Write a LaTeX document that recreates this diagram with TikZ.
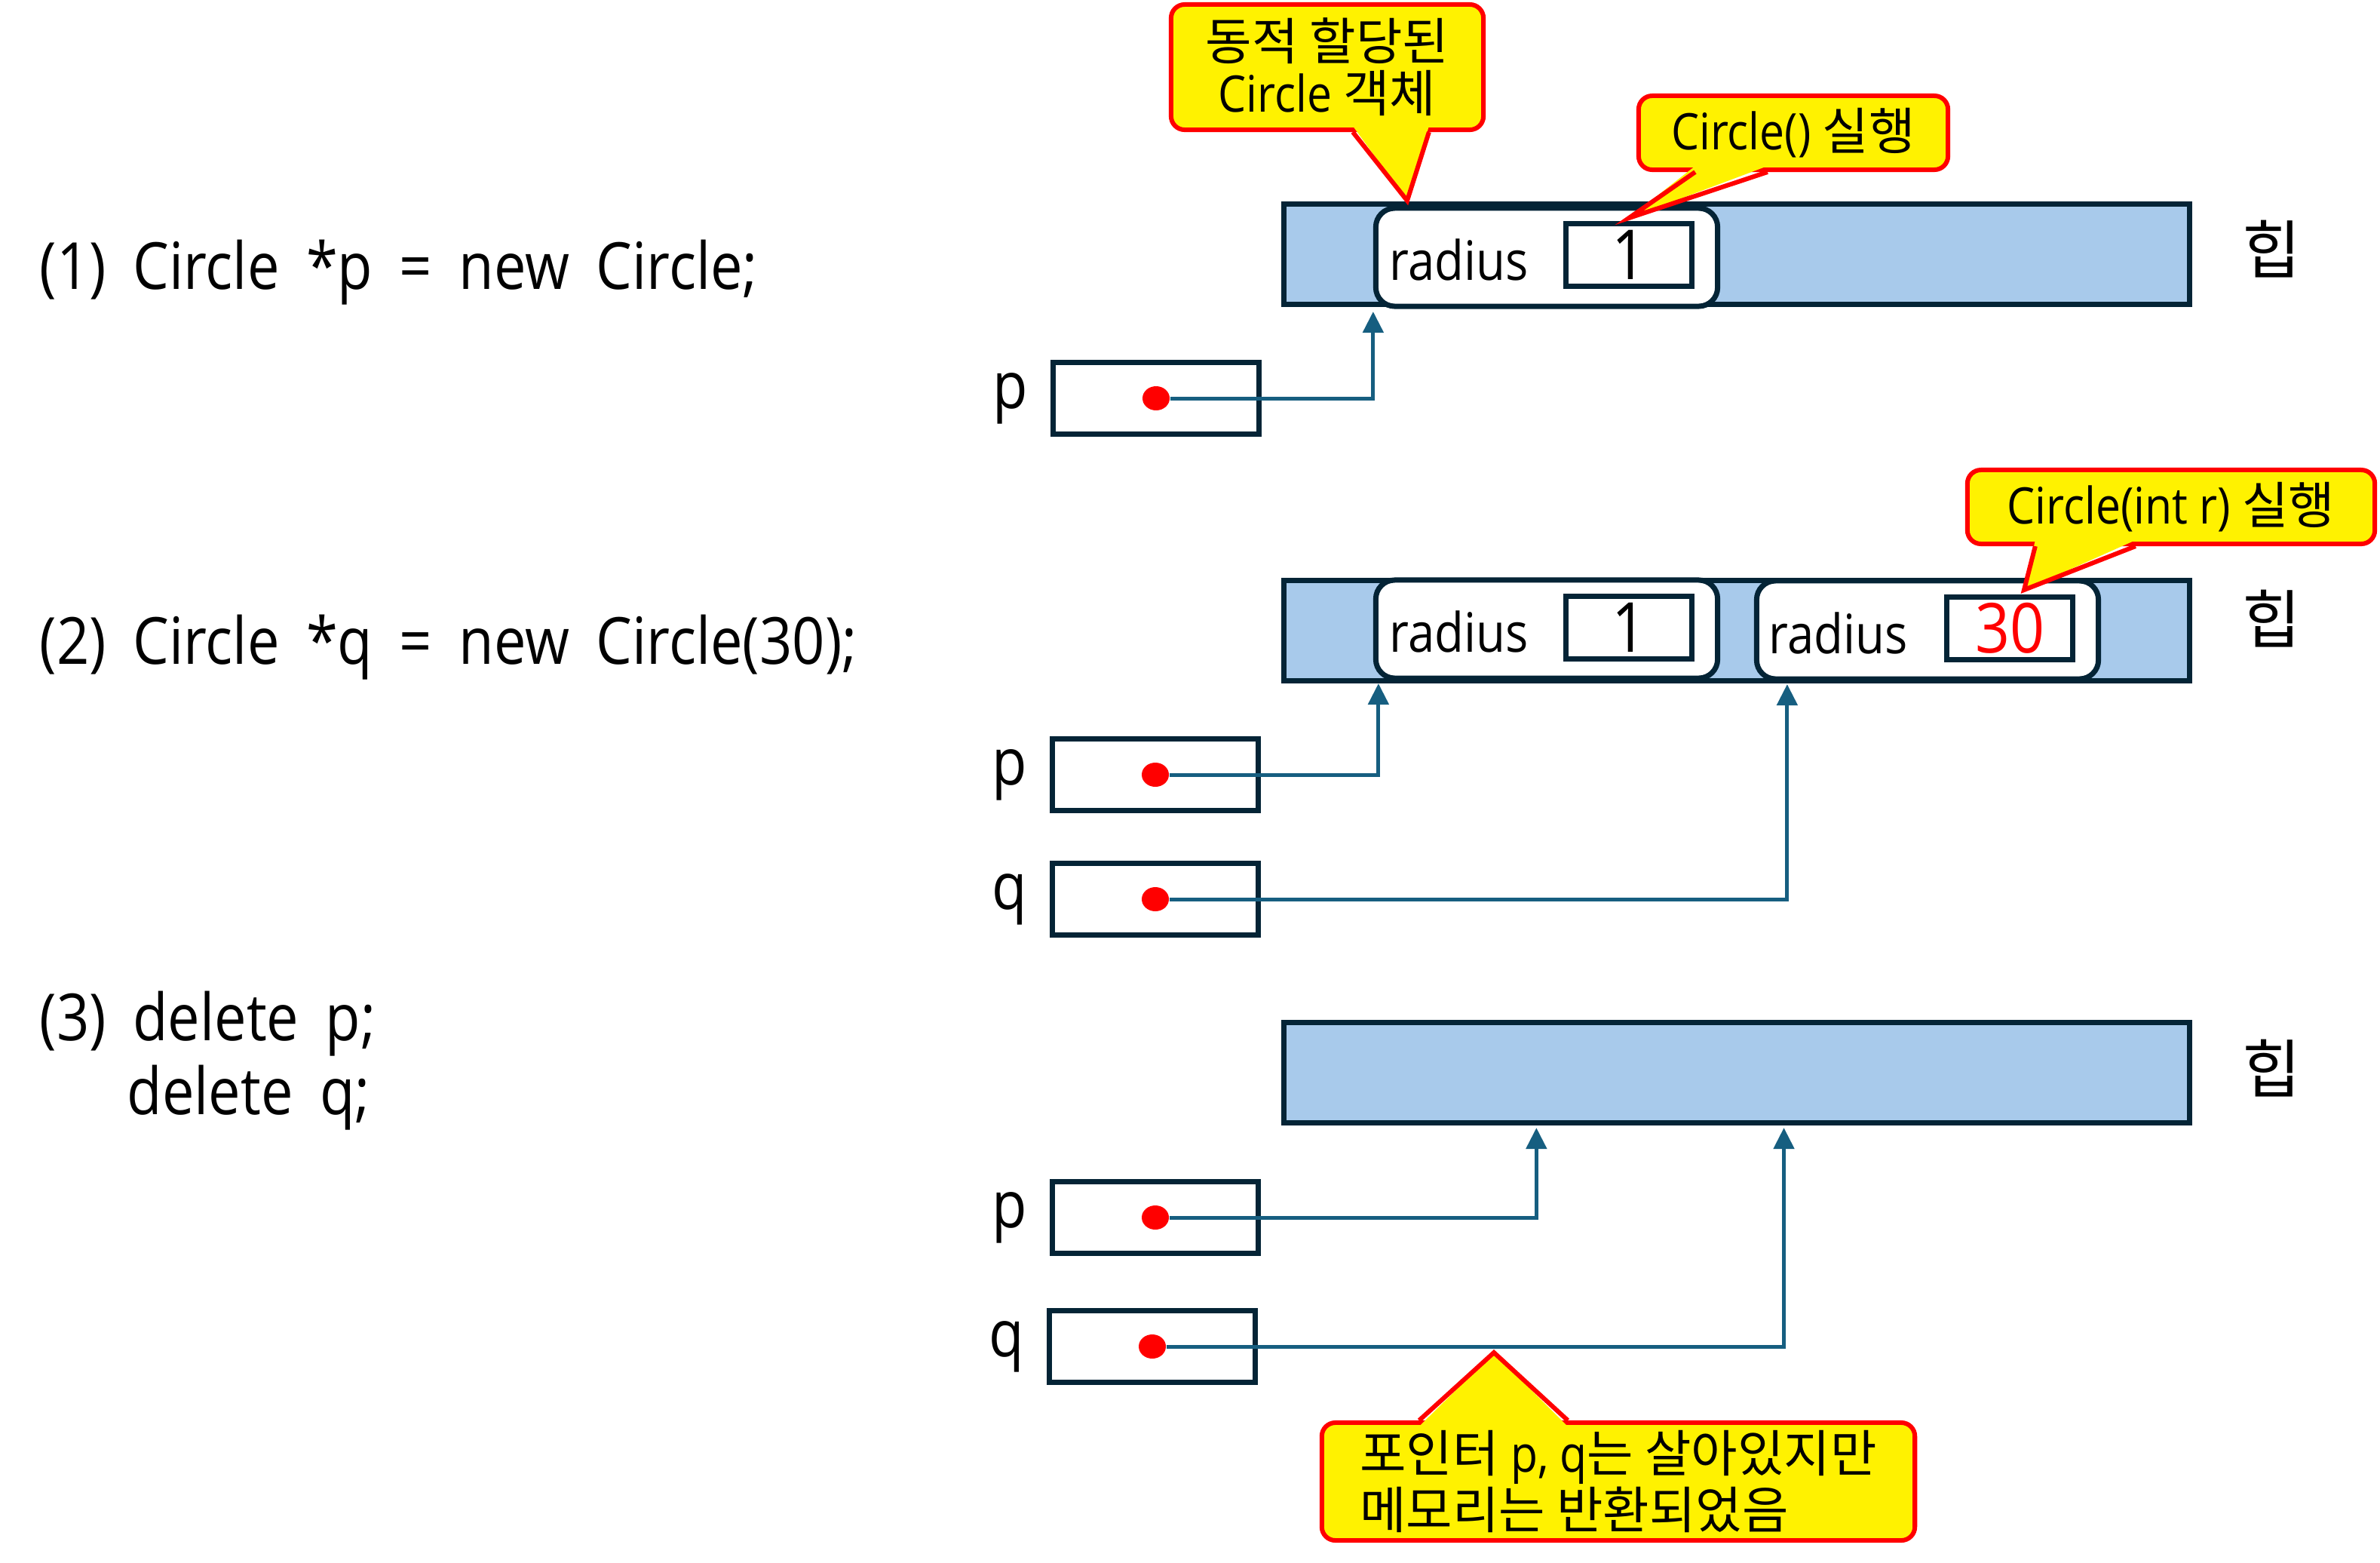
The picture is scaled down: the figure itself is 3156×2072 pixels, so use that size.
\documentclass[tikz,border=0pt]{standalone}
\usepackage{fontspec}
\setmainfont[FakeStretch=0.88]{Open Sans}
\newfontfamily\codefont[FakeStretch=0.88, WordSpace=1.8]{Open Sans}
\newfontfamily\kr{Noto Sans CJK KR}
\usepackage{tikz}
\usetikzlibrary{arrows.meta, positioning, shapes.geometric}

\definecolor{heapblue}{RGB}{168,202,235}
\definecolor{boxline}{RGB}{4,36,54}
\definecolor{ptrline}{RGB}{22,94,128}

\tikzstyle{heap} = [draw=boxline, fill=heapblue, line width=0.07cm, minimum width=12cm, minimum height=1.32cm, inner sep=0]
\tikzstyle{obj} = [draw=boxline, fill=white, line width=0.07cm, rounded corners=0.25cm, minimum width=4.53cm, minimum height=1.3cm, inner sep=0]
\tikzstyle{valbox} = [draw=boxline, fill=white, line width=0.07cm, minimum width=1.67cm, minimum height=0.83cm, inner sep=0, font=\fontsize{26}{30}\selectfont]
\tikzstyle{ptrbox} = [draw=boxline, line width=0.07cm, minimum width=2.72cm, minimum height=0.95cm, inner sep=0]
\tikzstyle{ptrdot} = [ellipse, fill=red, minimum width=0.36cm, minimum height=0.32cm, inner sep=0]
\tikzstyle{ptr} = [line width=0.05cm, ptrline, -{Triangle[length=0.28cm, width=0.27cm]}]
\tikzstyle{note} = [draw=red, fill=yellow, line width=0.06cm, rounded corners=0.18cm, inner sep=0, font=\fontsize{19}{19.6}\selectfont]
\tikzstyle{noteline} = [draw=red, line width=0.06cm]
\tikzstyle{codeline} = [anchor=base west, inner sep=0, font=\codefont\fontsize{24.5}{29}\selectfont]
\tikzstyle{lbl} = [inner sep=0, font=\fontsize{24.5}{29}\selectfont]
\tikzstyle{fieldname} = [anchor=base west, inner sep=0, font=\fontsize{20.5}{24}\selectfont]

\begin{document}
\begin{tikzpicture}[x=0.01cm, y=-0.01cm, line join=miter]
    \useasboundingbox (0,0) rectangle (3156,2072);

    % code on the left
    \node[codeline] (code1) at (52,383)  {(1) Circle *p = new Circle;};
    \node[codeline] (code2) at (52,880)  {(2) Circle *q = new Circle(30);};
    \node[codeline] (code3) at (52,1379) {(3) delete p;};
    \node[codeline] (code4) at (168,1477) {delete q;};

    % heap strips and their labels
    \foreach \n/\yy/\ly in {1/337/330, 2/836/820, 3/1422/1416}{
      \node[heap] (heap\n) at (2303,\yy) {};
      \node[font=\kr\fontsize{24}{29}\selectfont] (heaplbl\n) at (3012,\ly) {힙};
    }

    % objects on the heap
    \node[obj] (obj1) at (2051,341) {};
    \node[valbox] (val1) at (2160,338) {1};
    \node[fieldname] (rad1) at (1842,371) {radius};

    \node[obj] (obj2a) at (2051,834) {};
    \node[valbox] (val2a) at (2160,832) {1};
    \node[fieldname] (rad2a) at (1842,864) {radius};

    \node[obj] (obj2b) at (2556,835) {};
    \node[valbox, text=red] (val2b) at (2665,833) {30};
    \node[fieldname] (rad2b) at (2345,866) {radius};

    % pointer variables
    \foreach \v/\xx/\yy in {pbox1/1533/528, pbox2/1532/1027, qbox2/1532/1192,
                            pbox3/1532/1614, qbox3/1528/1785}{
      \node[ptrbox] (\v) at (\xx,\yy) {};
    }
    \node[lbl, left=0.3cm of pbox1] (plbl1) {p};
    \node[lbl, left=0.3cm of pbox2] (plbl2) {p};
    \node[lbl, left=0.3cm of qbox2] (qlbl2) {q};
    \node[lbl, left=0.3cm of pbox3] (plbl3) {p};
    \node[lbl, left=0.3cm of qbox3] (qlbl3) {q};

    \node[ptrdot] (pdot1) at (pbox1) {};
    \node[ptrdot] (pdot2) at (pbox2) {};
    \node[ptrdot] (qdot2) at (qbox2) {};
    \node[ptrdot] (pdot3) at (pbox3) {};
    \node[ptrdot] (qdot3) at (qbox3) {};

    % pointers into the heap
    \draw[ptr] (pdot1.east) -| ([yshift=-0.035cm]obj1.south west);
    \draw[ptr] (pdot2.east) -| ([xshift=0.07cm, yshift=-0.035cm]obj2a.south west);
    \draw[ptr] (qdot2.east) -| ([xshift=0.44cm, yshift=-0.035cm]obj2b.south west);
    \draw[ptr] (pdot3.east) -| ([xshift=3.38cm, yshift=-0.035cm]heap3.south west);
    \draw[ptr] (qdot3.east) -| ([xshift=6.66cm, yshift=-0.035cm]heap3.south west);

    % callouts
    \node[note, minimum width=4.14cm, minimum height=1.66cm, align=center] (note1) at (1760,89)
      {{\kr 동적 할당된}\\Circle {\kr 객체}};
    \node[note, minimum width=4.10cm, minimum height=0.98cm] (note2) at (2378,176) {Circle() {\kr 실행}};
    \node[note, minimum width=5.40cm, minimum height=0.98cm] (note3) at (2879,672) {Circle(int r) {\kr 실행}};
    \node[note, minimum width=7.86cm, minimum height=1.56cm, align=left] (note4) at (2146,1964)
      {{\kr 포인터} p, q{\kr 는 살아있지만}\\{\kr 메모리는 반환되었음}};

    \coordinate (tip1) at (1866,266);
    \coordinate (tip2) at (2160,289);
    \coordinate (tip3) at (2684,782);
    \coordinate (tip4) at (1981,1793);

    \foreach \nn/\aa/\bb in {1/244/345, 2/78/174, 3/93/226}{
      \fill[yellow] ([xshift=\aa*0.01cm, yshift=0.08cm]note\nn.south west) -- (tip\nn)
        -- ([xshift=\bb*0.01cm, yshift=0.08cm]note\nn.south west) -- cycle;
      \draw[noteline] ([xshift=\aa*0.01cm]note\nn.south west) -- (tip\nn)
        -- ([xshift=\bb*0.01cm]note\nn.south west);
    }
    \fill[yellow] ([xshift=1.32cm, yshift=-0.08cm]note4.north west) -- (tip4)
      -- ([xshift=3.29cm, yshift=-0.08cm]note4.north west) -- cycle;
    \draw[noteline] ([xshift=1.32cm]note4.north west) -- (tip4) -- ([xshift=3.29cm]note4.north west);
\end{tikzpicture}
\end{document}
